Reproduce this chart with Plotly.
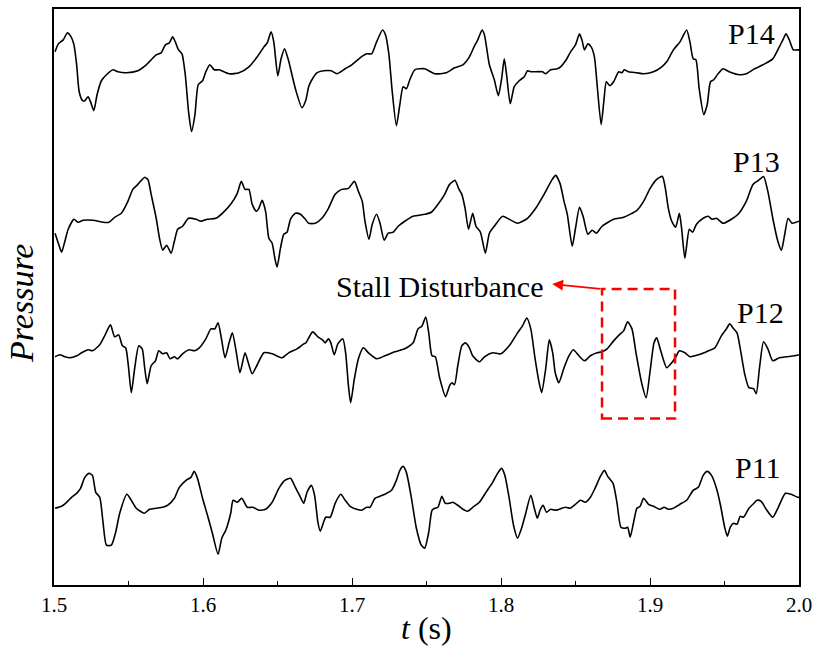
import plotly.graph_objects as go

# ---- data (time in s, pressure in arbitrary stacked units) ----
t14 = [1.5007,1.5029,1.5062,1.5089,1.5111,1.5134,1.5152,1.5169,1.5192,1.5207,1.5229,1.5245,1.5267,1.5289,1.5318,1.5352,1.5396,1.5429,1.5485,1.5563,1.5619,1.5686,1.5719,1.5748,1.5774,1.5796,1.5814,1.5836,1.5859,1.5881,1.5903,1.5923,1.5946,1.5968,1.5997,1.6019,1.6046,1.6075,1.6108,1.6175,1.6242,1.6308,1.6364,1.6409,1.6431,1.6457,1.6475,1.6502,1.6524,1.6547,1.6571,1.6620,1.6664,1.6691,1.6709,1.6727,1.6764,1.6809,1.6861,1.6898,1.6954,1.6998,1.7054,1.7098,1.7132,1.7165,1.7205,1.7225,1.7248,1.7270,1.7298,1.7321,1.7343,1.7365,1.7388,1.7421,1.7488,1.7555,1.7632,1.7688,1.7744,1.7788,1.7822,1.7844,1.7873,1.7889,1.7922,1.7955,1.7982,1.8004,1.8022,1.8039,1.8062,1.8089,1.8122,1.8156,1.8178,1.8200,1.8278,1.8300,1.8333,1.8378,1.8400,1.8433,1.8467,1.8500,1.8527,1.8545,1.8560,1.8583,1.8605,1.8627,1.8645,1.8672,1.8690,1.8707,1.8730,1.8756,1.8790,1.8812,1.8827,1.8856,1.8912,1.8957,1.9023,1.9079,1.9112,1.9157,1.9201,1.9246,1.9268,1.9290,1.9308,1.9330,1.9361,1.9384,1.9406,1.9428,1.9457,1.9491,1.9531,1.9601,1.9646,1.9702,1.9758,1.9824,1.9868,1.9895,1.9913,1.9935,1.9962,1.9985,2.0000]
p14 = [5.35,5.43,5.47,5.54,5.51,5.42,5.22,4.95,4.86,4.86,4.90,4.85,4.76,4.92,5.06,5.12,5.17,5.15,5.14,5.16,5.22,5.32,5.34,5.42,5.44,5.50,5.45,5.37,5.33,5.12,4.75,4.55,4.72,5.02,5.06,5.15,5.22,5.17,5.17,5.13,5.14,5.20,5.30,5.40,5.44,5.55,5.45,5.11,5.28,5.38,5.28,4.98,4.79,4.87,5.00,5.06,5.14,5.16,5.16,5.13,5.18,5.22,5.29,5.33,5.33,5.45,5.57,5.52,5.32,4.95,4.61,4.82,5.00,4.98,5.07,5.17,5.18,5.13,5.14,5.19,5.22,5.30,5.41,5.47,5.57,5.52,5.22,5.07,4.91,5.08,5.28,5.10,4.83,5.00,5.06,5.10,5.16,5.15,5.15,5.13,5.17,5.18,5.20,5.26,5.35,5.42,5.53,5.46,5.37,5.43,5.40,5.30,5.02,4.62,4.85,5.05,5.01,5.05,5.15,5.14,5.17,5.15,5.14,5.13,5.15,5.20,5.25,5.37,5.45,5.57,5.45,5.28,5.27,4.98,4.72,4.82,5.05,5.07,5.13,5.18,5.15,5.12,5.13,5.18,5.22,5.28,5.40,5.48,5.53,5.47,5.37,5.37,5.37]

t13 = [1.5007,1.5029,1.5051,1.5073,1.5095,1.5134,1.5162,1.5196,1.5262,1.5329,1.5369,1.5407,1.5452,1.5496,1.5529,1.5563,1.5607,1.5630,1.5652,1.5686,1.5708,1.5730,1.5756,1.5786,1.5808,1.5830,1.5863,1.5903,1.5953,1.5986,1.6030,1.6086,1.6130,1.6186,1.6230,1.6257,1.6282,1.6308,1.6330,1.6357,1.6375,1.6397,1.6420,1.6442,1.6464,1.6482,1.6497,1.6520,1.6542,1.6564,1.6587,1.6620,1.6654,1.6687,1.6709,1.6754,1.6798,1.6842,1.6887,1.6931,1.6976,1.7016,1.7043,1.7069,1.7087,1.7114,1.7136,1.7165,1.7188,1.7216,1.7243,1.7276,1.7310,1.7354,1.7410,1.7488,1.7532,1.7577,1.7622,1.7655,1.7692,1.7715,1.7737,1.7759,1.7782,1.7810,1.7832,1.7862,1.7895,1.7922,1.7955,1.8011,1.8055,1.8111,1.8178,1.8233,1.8289,1.8344,1.8367,1.8396,1.8423,1.8445,1.8478,1.8500,1.8527,1.8551,1.8583,1.8612,1.8640,1.8678,1.8756,1.8823,1.8912,1.8957,1.9001,1.9045,1.9083,1.9103,1.9123,1.9146,1.9172,1.9197,1.9212,1.9234,1.9264,1.9286,1.9312,1.9357,1.9391,1.9417,1.9446,1.9491,1.9546,1.9591,1.9646,1.9691,1.9728,1.9762,1.9791,1.9824,1.9858,1.9882,1.9902,1.9927,1.9953,1.9980,2.0000]
p13 = [3.53,3.43,3.34,3.45,3.57,3.67,3.64,3.66,3.66,3.64,3.64,3.69,3.73,3.85,3.97,4.02,4.09,4.07,3.92,3.68,3.48,3.36,3.41,3.33,3.45,3.57,3.60,3.68,3.67,3.65,3.67,3.68,3.73,3.82,3.93,4.05,3.97,3.97,3.82,3.75,3.78,3.86,3.75,3.48,3.43,3.28,3.19,3.38,3.52,3.54,3.67,3.73,3.72,3.67,3.63,3.63,3.68,3.78,3.92,3.97,3.98,4.05,3.95,3.85,3.65,3.47,3.62,3.72,3.63,3.46,3.53,3.54,3.60,3.65,3.70,3.72,3.74,3.82,3.92,4.02,4.06,3.98,3.92,3.78,3.57,3.73,3.60,3.54,3.33,3.53,3.60,3.70,3.67,3.63,3.68,3.78,3.92,4.07,4.11,4.03,3.85,3.72,3.40,3.58,3.79,3.70,3.52,3.56,3.53,3.60,3.67,3.69,3.76,3.85,3.98,4.07,4.10,3.98,3.78,3.65,3.59,3.73,3.58,3.28,3.57,3.54,3.62,3.68,3.70,3.67,3.68,3.63,3.67,3.72,3.85,4.02,4.06,4.10,3.95,3.68,3.45,3.36,3.50,3.68,3.63,3.64,3.65]

t12 = [1.5007,1.5040,1.5073,1.5107,1.5152,1.5185,1.5229,1.5258,1.5307,1.5340,1.5379,1.5407,1.5434,1.5459,1.5481,1.5499,1.5519,1.5541,1.5569,1.5592,1.5607,1.5625,1.5652,1.5681,1.5703,1.5730,1.5756,1.5779,1.5808,1.5830,1.5863,1.5908,1.5941,1.5975,1.6019,1.6053,1.6079,1.6101,1.6124,1.6148,1.6175,1.6197,1.6224,1.6248,1.6282,1.6304,1.6330,1.6364,1.6409,1.6464,1.6531,1.6575,1.6631,1.6676,1.6691,1.6736,1.6771,1.6802,1.6820,1.6842,1.6858,1.6881,1.6905,1.6938,1.6958,1.6976,1.6991,1.7016,1.7043,1.7076,1.7110,1.7165,1.7221,1.7288,1.7354,1.7410,1.7443,1.7470,1.7495,1.7515,1.7537,1.7559,1.7588,1.7628,1.7655,1.7670,1.7688,1.7710,1.7737,1.7762,1.7788,1.7810,1.7855,1.7889,1.7944,1.7999,1.8055,1.8111,1.8144,1.8173,1.8200,1.8226,1.8256,1.8273,1.8300,1.8324,1.8347,1.8364,1.8388,1.8423,1.8456,1.8485,1.8523,1.8560,1.8600,1.8645,1.8678,1.8712,1.8756,1.8800,1.8823,1.8850,1.8879,1.8907,1.8945,1.8974,1.9001,1.9027,1.9045,1.9072,1.9112,1.9146,1.9174,1.9197,1.9234,1.9268,1.9301,1.9346,1.9391,1.9435,1.9479,1.9513,1.9535,1.9557,1.9584,1.9606,1.9635,1.9664,1.9695,1.9713,1.9735,1.9762,1.9791,1.9824,1.9868,1.9913,1.9969,2.0000]
p12 = [2.29,2.31,2.29,2.28,2.30,2.33,2.36,2.35,2.41,2.50,2.61,2.49,2.51,2.40,2.38,2.20,1.93,2.17,2.40,2.37,2.20,2.02,2.20,2.25,2.35,2.32,2.33,2.27,2.29,2.27,2.32,2.36,2.35,2.38,2.47,2.57,2.57,2.63,2.47,2.28,2.43,2.53,2.33,2.13,2.33,2.23,2.12,2.21,2.33,2.32,2.28,2.33,2.37,2.42,2.43,2.54,2.49,2.46,2.43,2.47,2.43,2.31,2.42,2.47,2.32,2.00,1.83,2.07,2.27,2.38,2.33,2.27,2.30,2.34,2.37,2.43,2.57,2.60,2.69,2.53,2.30,2.29,2.08,1.89,2.00,2.03,2.01,2.20,2.40,2.43,2.38,2.30,2.24,2.29,2.33,2.32,2.40,2.53,2.60,2.68,2.57,2.30,2.03,1.93,2.17,2.46,2.33,2.13,2.03,2.18,2.30,2.36,2.30,2.25,2.30,2.33,2.34,2.37,2.45,2.52,2.55,2.64,2.57,2.32,2.02,1.88,2.15,2.43,2.48,2.35,2.18,2.23,2.29,2.35,2.33,2.29,2.30,2.32,2.35,2.38,2.50,2.57,2.62,2.58,2.53,2.37,2.12,1.98,1.97,1.92,2.18,2.44,2.37,2.25,2.28,2.29,2.30,2.31]

t11 = [1.5007,1.5051,1.5085,1.5118,1.5152,1.5178,1.5207,1.5236,1.5258,1.5280,1.5307,1.5329,1.5352,1.5385,1.5414,1.5441,1.5489,1.5519,1.5552,1.5607,1.5641,1.5686,1.5730,1.5763,1.5808,1.5841,1.5886,1.5919,1.5941,1.5963,1.5997,1.6030,1.6063,1.6101,1.6126,1.6153,1.6186,1.6202,1.6230,1.6260,1.6297,1.6335,1.6375,1.6420,1.6464,1.6509,1.6549,1.6587,1.6620,1.6654,1.6676,1.6698,1.6727,1.6749,1.6771,1.6787,1.6809,1.6824,1.6854,1.6887,1.6925,1.6954,1.6987,1.7031,1.7065,1.7098,1.7121,1.7154,1.7188,1.7221,1.7265,1.7298,1.7321,1.7343,1.7365,1.7399,1.7432,1.7465,1.7488,1.7515,1.7537,1.7555,1.7577,1.7603,1.7626,1.7655,1.7677,1.7710,1.7744,1.7777,1.7810,1.7855,1.7899,1.7944,1.7977,1.8004,1.8026,1.8055,1.8084,1.8111,1.8138,1.8166,1.8200,1.8222,1.8244,1.8262,1.8282,1.8306,1.8333,1.8367,1.8433,1.8463,1.8500,1.8533,1.8567,1.8600,1.8634,1.8667,1.8694,1.8716,1.8752,1.8778,1.8805,1.8834,1.8850,1.8867,1.8890,1.8912,1.8934,1.8957,1.8990,1.9023,1.9067,1.9094,1.9123,1.9157,1.9201,1.9246,1.9290,1.9324,1.9357,1.9384,1.9413,1.9446,1.9473,1.9501,1.9519,1.9539,1.9561,1.9584,1.9606,1.9628,1.9664,1.9691,1.9718,1.9746,1.9780,1.9824,1.9858,1.9909,1.9947,1.9991,2.0000]
p11 = [0.77,0.79,0.83,0.88,0.92,0.97,1.08,1.12,1.10,0.93,0.88,0.63,0.40,0.40,0.53,0.72,0.91,0.85,0.77,0.72,0.76,0.77,0.78,0.80,0.87,0.98,1.05,1.08,1.14,1.07,0.87,0.70,0.52,0.31,0.47,0.55,0.72,0.85,0.83,0.87,0.78,0.78,0.75,0.76,0.83,0.97,1.05,1.07,0.98,0.88,0.82,0.93,1.00,0.90,0.63,0.54,0.63,0.68,0.68,0.82,0.91,0.85,0.79,0.76,0.75,0.78,0.78,0.87,0.89,0.91,0.95,1.05,1.15,1.19,1.13,0.87,0.57,0.40,0.37,0.53,0.75,0.77,0.78,0.89,0.82,0.82,0.83,0.80,0.76,0.74,0.78,0.83,0.93,1.03,1.12,1.17,1.10,0.87,0.60,0.47,0.57,0.72,0.90,0.78,0.67,0.75,0.80,0.73,0.76,0.75,0.78,0.77,0.81,0.85,0.83,0.88,0.98,1.09,1.15,1.09,1.02,0.83,0.58,0.57,0.58,0.48,0.63,0.77,0.79,0.87,0.81,0.79,0.76,0.78,0.76,0.77,0.81,0.85,0.95,0.98,1.10,1.14,1.10,0.97,0.80,0.58,0.49,0.58,0.62,0.61,0.69,0.68,0.77,0.81,0.85,0.84,0.76,0.68,0.77,0.92,0.91,0.88,0.88]

series = [("P14", t14, p14), ("P13", t13, p13), ("P12", t12, p12), ("P11", t11, p11)]
label_pos = {"P14": (1.9680, 5.53), "P13": (1.9713, 4.25), "P12": (1.9740, 2.73), "P11": (1.9726, 1.18)}

x_range = [1.5, 2.0]
y_range = [0.0, 5.78]
tick_vals = [1.5, 1.6, 1.7, 1.8, 1.9, 2.0]
tick_text = ["1.5", "1.6", "1.7", "1.8", "1.9", "2.0"]

# stall disturbance marker box (t0, t1, p_low, p_high)
box = (1.8678, 1.9168, 1.67, 2.97)
arrow_head = (1.8344, 3.02)
stall_text_pos = (1.7590, 3.00)

SERIF = "Liberation Serif, Times New Roman, serif"

fig = go.Figure()
for name, t, p in series:
    fig.add_trace(go.Scatter(x=t, y=p, mode="lines", name=name,
                             line=dict(color="black", width=1.6, shape="spline", smoothing=0.6),
                             showlegend=False, hoverinfo="skip"))

for name, (lx, ly) in label_pos.items():
    fig.add_annotation(x=lx, y=ly, xref="x", yref="y", text=name, showarrow=False,
                       font=dict(family=SERIF, size=30, color="black"))

# red dashed box
fig.add_shape(type="rect", x0=box[0], x1=box[1], y0=box[2], y1=box[3], xref="x", yref="y",
              line=dict(color="#ff0000", width=2.5, dash="10px,6px"))
# arrow
fig.add_annotation(x=arrow_head[0], y=arrow_head[1], ax=box[0], ay=box[3],
                   xref="x", yref="y", axref="x", ayref="y", text="", showarrow=True,
                   arrowhead=2, arrowsize=1.2, arrowwidth=1.8, arrowcolor="#ff0000")
fig.add_annotation(x=stall_text_pos[0], y=stall_text_pos[1], xref="x", yref="y",
                   text="Stall Disturbance", showarrow=False,
                   font=dict(family=SERIF, size=30, color="black"))

# axis titles
fig.add_annotation(x=0.5, y=0, xref="paper", yref="paper", yshift=-43, yanchor="middle",
                   text="<i>t</i> (s)", showarrow=False,
                   font=dict(family=SERIF, size=32, color="black"))
fig.add_annotation(x=0, y=0.488, xref="paper", yref="paper", xshift=-32, xanchor="center",
                   yanchor="middle", textangle=-90, text="<i>Pressure</i>", showarrow=False,
                   font=dict(family=SERIF, size=34, color="black"))

fig.update_layout(
    width=819, height=647,
    margin=dict(l=54, r=16, t=7, b=62),
    paper_bgcolor="white", plot_bgcolor="white",
    font=dict(family=SERIF, color="black"),
    xaxis=dict(range=x_range, tickvals=tick_vals, ticktext=tick_text, ticks="inside", ticklen=7,
               tickwidth=1.3, tickcolor="black", showgrid=False, zeroline=False,
               showline=True, linecolor="black", linewidth=1.6, mirror=True,
               tickfont=dict(family=SERIF, size=21, color="black"),
               minor=dict(dtick=0.05, ticks="inside", ticklen=4, tickwidth=1.2, tickcolor="black")),
    yaxis=dict(range=y_range, showticklabels=False, ticks="", showgrid=False, zeroline=False,
               showline=True, linecolor="black", linewidth=1.6, mirror=True),
)

fig.write_html("out.html")
